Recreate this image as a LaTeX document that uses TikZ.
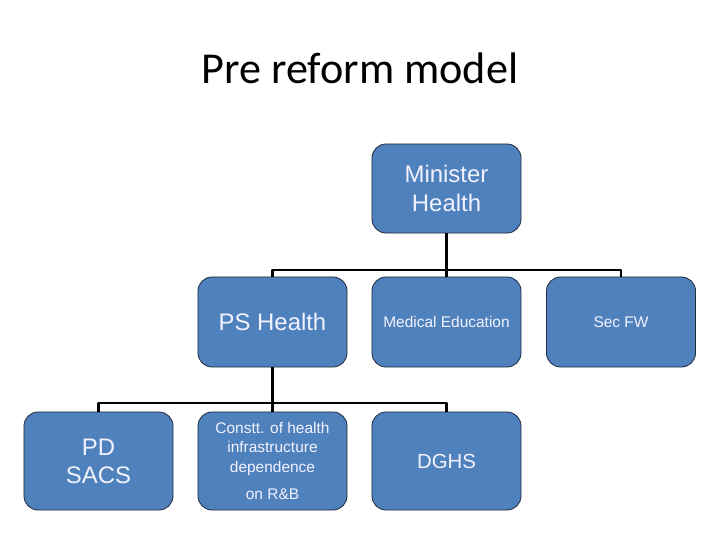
\documentclass[tikz,border=0pt]{standalone}
\usepackage{fontspec}
\setmainfont{Liberation Sans}
\newfontfamily\titlefont{Carlito}
\definecolor{boxblue}{RGB}{79,129,189}
\definecolor{boxline}{RGB}{35,45,65}
\tikzset{
  orgbox/.style={draw=boxline, line width=0.6pt, fill=boxblue, rounded corners=10pt,
    minimum width=3.725cm, minimum height=2.25cm, text=white!95!blue, align=center, inner sep=2pt},
  bigtext/.style={font=\fontsize{17}{20}\selectfont},
  smalltext/.style={font=\fontsize{11}{13.8}\selectfont},
  bus/.style={line width=1.7pt, black}
}
\begin{document}
\begin{tikzpicture}[x=0.025cm, y=-0.025cm, line join=round]
	\useasboundingbox (0,0) rectangle (720,540);
	% Title
	\node[font=\titlefont\fontsize{31.4}{36}\selectfont] (title) at (360,68) {Pre reform model};
	% Top
	\node[orgbox, bigtext, minimum height=2.225cm] (minister) at (446.5,188.5) {Minister\\Health};
	% Second row
	\node[orgbox, bigtext] (pshealth) at (272.5,322) {PS Health};
	\node[orgbox, smalltext] (meded) at (446.5,322) {Medical Education};
	\node[orgbox, smalltext] (secfw) at (621,322) {Sec FW};
	% Third row
	\node[orgbox, bigtext, minimum height=2.45cm] (pdsacs) at (98.5,461) {PD\\SACS};
	\node[orgbox, smalltext, minimum height=2.45cm] (constt) at (272.5,461)
		{Constt. of health\\infrastructure\\dependence\\[6pt]on R\&B};
	\node[orgbox, font=\fontsize{14.5}{17}\selectfont, minimum height=2.45cm] (dghs) at (446.5,461) {DGHS};
	% Connectors
	\coordinate (jtop) at (446.5,270);
	\coordinate (jmid) at (272.5,403);
	\draw[bus] (minister.south) -- (jtop);
	\draw[bus] (pshealth.north) |- (jtop) -| (secfw.north);
	\draw[bus] (jtop) -- (meded.north);
	\draw[bus] (pshealth.south) -- (jmid);
	\draw[bus] (pdsacs.north) |- (jmid) -| (dghs.north);
	\draw[bus] (jmid) -- (constt.north);
\end{tikzpicture}
\end{document}
